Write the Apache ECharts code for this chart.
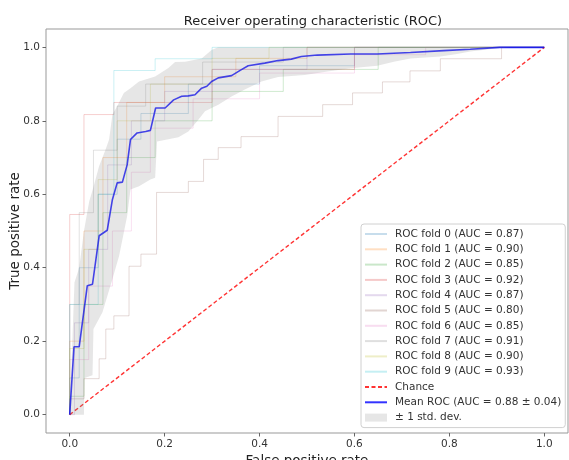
<!DOCTYPE html>
<html>
<head>
<meta charset="utf-8">
<script src="https://cdn.jsdelivr.net/npm/echarts@6/dist/echarts.min.js"></script>
<style>
  html, body { margin: 0; padding: 0; background: #fff; }
  #chart { width: 569px; height: 460px; }
</style>
</head>
<body>
<div id="chart"></div>
<script>
// ROC curves of a 10-fold cross validation
var tickValues = [0, 0.2, 0.4, 0.6, 0.8, 1.0];

var foldAuc = [0.87, 0.90, 0.85, 0.92, 0.87, 0.80, 0.85, 0.91, 0.90, 0.93];
// step points: from each point the curve runs right, then up to the next
var foldFpr = [
    [0, 0, 0.02, 0.06, 0.10, 0.15, 0.25, 0.40, 0.60, 1],
    [0, 0, 0.03, 0.07, 0.12, 0.20, 0.35, 0.50, 1],
    [0, 0, 0.03, 0.07, 0.12, 0.18, 0.30, 0.45, 0.65, 1],
    [0, 0, 0.03, 0.093, 0.30, 0.60, 1],
    [0, 0.01, 0.04, 0.08, 0.13, 0.20, 0.30, 0.50, 1],
    [0, 0, 0.03, 0.062, 0.076, 0.093, 0.125, 0.15, 0.183, 0.25, 0.282, 0.313, 0.361, 0.439, 0.533, 0.596, 0.659, 0.717, 0.781, 0.91, 1],
    [0, 0, 0.04, 0.09, 0.13, 0.17, 0.26, 0.40, 0.60, 0.75, 1],
    [0, 0, 0.02, 0.05, 0.10, 0.16, 0.28, 0.45, 1],
    [0, 0, 0.03, 0.06, 0.10, 0.17, 0.30, 0.42, 1],
    [0, 0, 0.06, 0.093, 0.18, 0.30, 1]
];
var foldTpr = [
    [0, 0.10, 0.40, 0.60, 0.75, 0.82, 0.90, 0.95, 1, 1],
    [0, 0.20, 0.50, 0.70, 0.85, 0.92, 0.97, 1, 1],
    [0, 0.05, 0.30, 0.55, 0.70, 0.80, 0.88, 0.94, 1, 1],
    [0, 0.545, 0.817, 0.85, 0.94, 1, 1],
    [0, 0.25, 0.45, 0.68, 0.80, 0.88, 0.94, 1, 1],
    [0, 0.043, 0.098, 0.152, 0.233, 0.269, 0.404, 0.437, 0.605, 0.635, 0.695, 0.727, 0.757, 0.812, 0.844, 0.876, 0.906, 0.936, 0.969, 1, 1],
    [0, 0.15, 0.35, 0.50, 0.66, 0.78, 0.86, 0.93, 0.98, 1, 1],
    [0, 0.30, 0.55, 0.72, 0.84, 0.90, 0.96, 1, 1],
    [0, 0.18, 0.45, 0.64, 0.80, 0.90, 0.97, 1, 1],
    [0, 0.30, 0.60, 0.937, 0.969, 1, 1]
];
var foldColors = ['rgba(31,119,180,0.25)', 'rgba(255,127,14,0.25)', 'rgba(44,160,44,0.25)',
    'rgba(214,39,40,0.25)', 'rgba(148,103,189,0.25)', 'rgba(140,86,75,0.25)',
    'rgba(227,119,194,0.25)', 'rgba(127,127,127,0.25)', 'rgba(188,189,34,0.25)', 'rgba(23,190,207,0.25)'];

var meanFpr = [0, 0.009, 0.02, 0.037, 0.048, 0.062, 0.079, 0.09, 0.1, 0.111, 0.121, 0.128, 0.142, 0.16, 0.17,
    0.181, 0.201, 0.219, 0.236, 0.25, 0.264, 0.278, 0.289, 0.299, 0.313, 0.341, 0.36, 0.376, 0.411, 0.439,
    0.467, 0.488, 0.522, 0.592, 0.648, 0.718, 0.788, 0.844, 0.906, 1];
var meanTpr = [0, 0.185, 0.185, 0.351, 0.355, 0.487, 0.502, 0.586, 0.631, 0.633, 0.68, 0.749, 0.767, 0.771, 0.774,
    0.835, 0.835, 0.857, 0.867, 0.868, 0.871, 0.889, 0.894, 0.907, 0.917, 0.923, 0.938, 0.95, 0.957, 0.964,
    0.968, 0.975, 0.979, 0.982, 0.982, 0.986, 0.991, 0.995, 1, 1];
var meanAuc = 0.88, stdAuc = 0.04;

var upperFpr = [0, 0.01, 0.02, 0.03, 0.041, 0.05, 0.062, 0.075, 0.083, 0.09, 0.1, 0.114, 0.128, 0.146, 0.18,
    0.208, 0.222, 0.243, 0.278, 0.299, 0.313, 1];
var upperTpr = [0, 0.36, 0.40, 0.50, 0.58, 0.62, 0.677, 0.72, 0.749, 0.817, 0.84, 0.876, 0.889, 0.907, 0.921,
    0.944, 0.96, 0.961, 0.97, 0.993, 1, 1];
var lowerFpr = [0, 0.03, 0.031, 0.048, 0.05, 0.069, 0.09, 0.104, 0.121, 0.128, 0.146, 0.17, 0.18, 0.184, 0.229,
    0.25, 0.271, 0.285, 0.313, 0.341, 0.369, 0.404, 0.439, 0.495, 0.543, 0.592, 0.648, 0.683, 0.718, 0.781,
    0.816, 0.844, 0.906, 0.93, 1];
var lowerTpr = [0, 0, 0.10, 0.107, 0.233, 0.279, 0.369, 0.432, 0.541, 0.613, 0.622, 0.64, 0.645, 0.744, 0.755,
    0.771, 0.803, 0.826, 0.844, 0.866, 0.885, 0.907, 0.919, 0.925, 0.934, 0.943, 0.95, 0.961, 0.97, 0.975,
    0.982, 0.989, 0.998, 1, 1];

var FONT = 'DejaVu Sans';
var myChart = echarts.init(document.getElementById('chart'));

var series = [];
var legendData = [];
for (var i = 0; i < foldFpr.length; i++) {
    var name = 'ROC fold ' + i + ' (AUC = ' + foldAuc[i].toFixed(2) + ')';
    var pts = [];
    for (var j = 0; j < foldFpr[i].length; j++) pts.push([foldFpr[i][j], foldTpr[i][j]]);
    series.push({
        name: name,
        type: 'line',
        step: 'end',
        symbol: 'none',
        z: 2,
        silent: true,
        lineStyle: { color: foldColors[i], width: 0.9 },
        itemStyle: { color: foldColors[i] },
        data: pts
    });
    legendData.push(name);
}

series.push({
    name: 'Chance',
    type: 'line',
    symbol: 'none',
    z: 3,
    silent: true,
    lineStyle: { color: 'rgba(255,0,0,0.8)', width: 1.4, type: [4, 2.5] },
    itemStyle: { color: 'rgba(255,0,0,0.8)' },
    data: [[0, 0], [1, 1]]
});
legendData.push('Chance');

var meanName = 'Mean ROC (AUC = ' + meanAuc.toFixed(2) + ' \u00b1 ' + stdAuc.toFixed(2) + ')';
var meanPts = [];
for (var k = 0; k < meanFpr.length; k++) meanPts.push([meanFpr[k], meanTpr[k]]);
series.push({
    name: meanName,
    type: 'line',
    symbol: 'none',
    z: 4,
    silent: true,
    lineStyle: { color: 'rgba(0,0,255,0.8)', width: 1.6 },
    itemStyle: { color: 'rgba(0,0,255,0.8)' },
    data: meanPts
});
legendData.push(meanName);

// std band drawn as one polygon: upper edge forward, lower edge back
series.push({
    name: '\u00b1 1 std. dev.',
    type: 'custom',
    z: 5,
    silent: true,
    itemStyle: { color: 'rgba(128,128,128,0.2)' },
    encode: { x: 0, y: 1 },
    data: [[0, 0]],
    renderItem: function (params, api) {
        var poly = [];
        for (var a = 0; a < upperFpr.length; a++) poly.push(api.coord([upperFpr[a], upperTpr[a]]));
        for (var b = lowerFpr.length - 1; b >= 0; b--) poly.push(api.coord([lowerFpr[b], lowerTpr[b]]));
        return { type: 'polygon', shape: { points: poly }, style: { fill: 'rgba(128,128,128,0.2)' } };
    }
});
legendData.push({ name: '\u00b1 1 std. dev.', icon: 'rect', itemStyle: { color: 'rgba(128,128,128,0.2)', opacity: 1 } });

function tickFmt(v) { return v.toFixed(1); }

var option = {
    backgroundColor: '#fff',
    animation: false,
    textStyle: { fontFamily: FONT },
    title: {
        text: 'Receiver operating characteristic (ROC)',
        left: 308,
        top: 10,
        textAlign: 'center',
        textStyle: { fontFamily: FONT, fontSize: 13, fontWeight: 'normal', color: '#222' }
    },
    grid: {
        left: 46, right: 1, top: 29, bottom: 27,
        outerBoundsMode: 'none',
        containLabel: false,
        show: true, borderColor: '#999', borderWidth: 1, backgroundColor: 'transparent'
    },
    legend: {
        orient: 'vertical',
        left: 361,
        top: 224,
        data: legendData,
        itemWidth: 22,
        itemHeight: 8,
        itemGap: 3.3,
        padding: [4, 4, 4, 3],
        backgroundColor: 'rgba(255,255,255,0.8)',
        borderColor: '#d0d0d0',
        borderWidth: 1,
        borderRadius: 3,
        selectedMode: false,
        itemStyle: { opacity: 0 },
        textStyle: { fontFamily: FONT, fontSize: 10.5, color: '#333', lineHeight: 12, padding: [0, 0, 0, 3] }
    },
    xAxis: {
        type: 'value',
        min: -0.05,
        max: 1.05,
        name: 'False positive rate',
        nameLocation: 'middle',
        nameGap: 18,
        nameTextStyle: { fontFamily: FONT, fontSize: 13.5, color: '#222', verticalAlign: 'top' },
        axisLine: { show: false, onZero: false },
        axisTick: { show: true, customValues: tickValues, length: 3.5, lineStyle: { color: '#666' } },
        axisLabel: { customValues: tickValues, formatter: tickFmt, fontFamily: FONT, fontSize: 10.5, color: '#333', margin: 6 },
        splitLine: { show: false }
    },
    yAxis: {
        type: 'value',
        min: -0.05,
        max: 1.05,
        name: 'True positive rate',
        nameLocation: 'middle',
        nameGap: 24,
        nameMoveOverlap: false,
        nameTextStyle: { fontFamily: FONT, fontSize: 13.5, color: '#222' },
        axisLine: { show: false, onZero: false },
        axisTick: { show: true, customValues: tickValues, length: 3.5, lineStyle: { color: '#666' } },
        axisLabel: { customValues: tickValues, formatter: tickFmt, fontFamily: FONT, fontSize: 10.5, color: '#333', margin: 6 },
        splitLine: { show: false }
    },
    series: series
};

myChart.setOption(option);
</script>
</body>
</html>
